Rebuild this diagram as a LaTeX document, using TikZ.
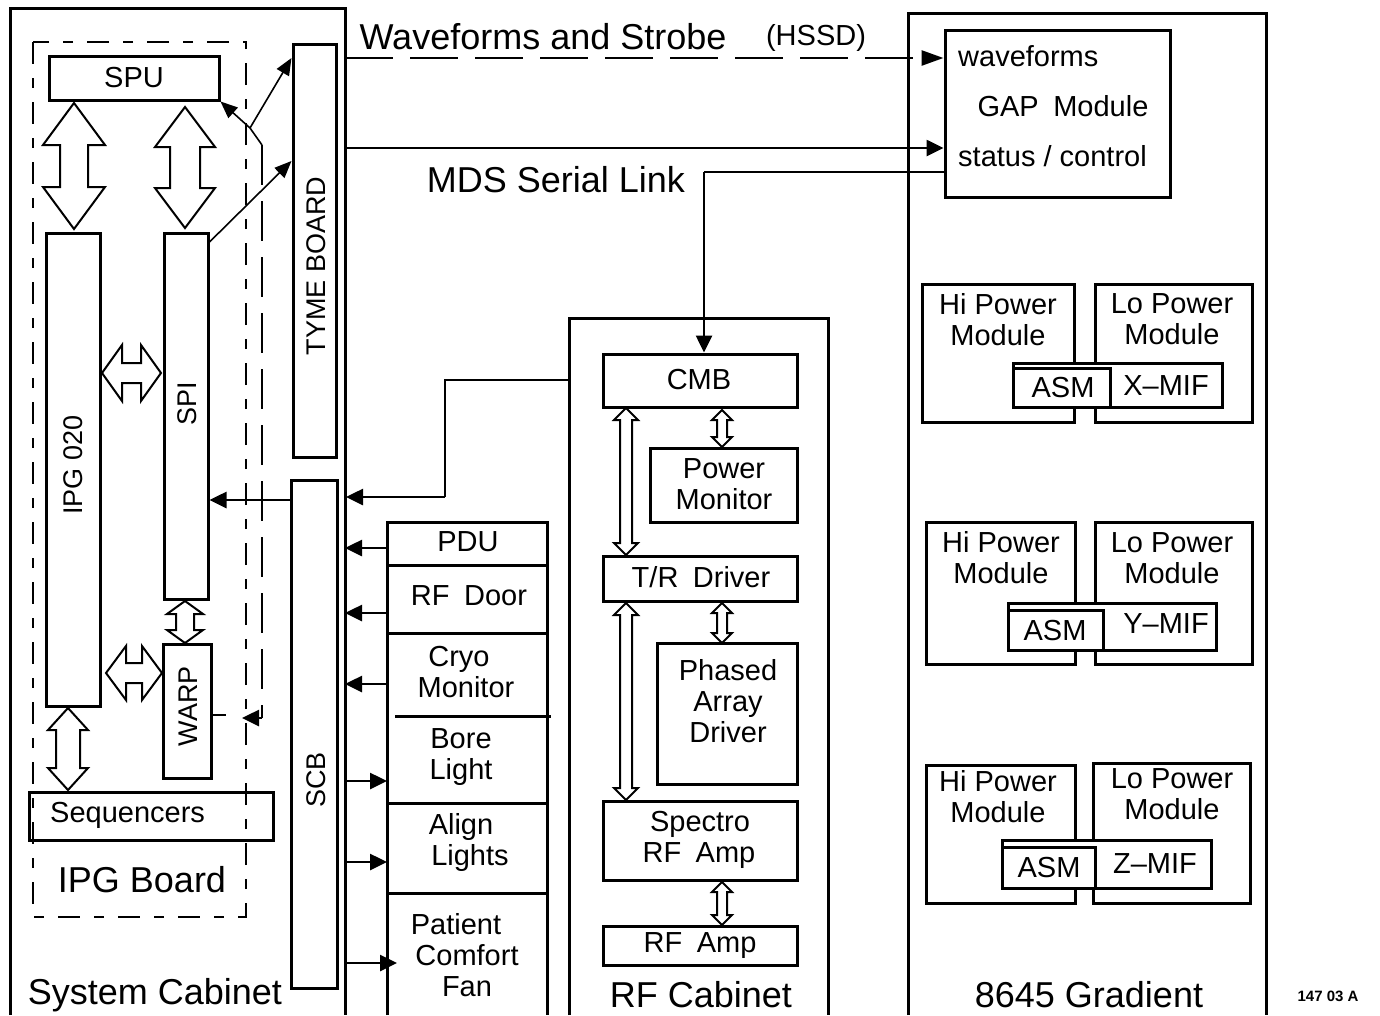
\documentclass[tikz,border=0pt]{standalone}
\usepackage{fontspec}
\setmainfont{Liberation Sans}
\usetikzlibrary{arrows.meta,fit}
\tikzset{
  box/.style={draw, line width=3pt, inner sep=0pt},
  wbox/.style={box, fill=white},
  wall/.style={line width=3pt},
  hollow/.style={line width=2pt, fill=white, line join=miter},
  lbl/.style={font=\fontsize{29}{31}\selectfont, inner sep=0pt, align=center},
  rlbl/.style={font=\fontsize{27}{29}\selectfont, inner sep=0pt, rotate=90},
  big/.style={font=\fontsize{36}{40}\selectfont, inner sep=0pt},
  conn/.style={line width=2.6pt, -{Triangle[length=17pt,width=16pt]}},
  thinconn/.style={line width=1.6pt, -{Triangle[length=17pt,width=14pt]}},
  boarddash/.style={line width=2.6pt, dash pattern=on 22pt off 14pt on 10pt off 14pt},
  longdash/.style={line width=2.6pt, dash pattern=on 40pt off 16pt},
  wavedash/.style={line width=2.6pt, dash pattern=on 48pt off 17pt, -{Triangle[length=22pt,width=15pt]}}
}
% vertical hollow double arrow: x, ytop, ybot, headhalf, shafthalf, headlen
\newcommand\dav[6]{\draw[hollow] (#1,#2) -- ({#1+#4},{#2+#6}) -- ({#1+#5},{#2+#6}) -- ({#1+#5},{#3-#6}) -- ({#1+#4},{#3-#6}) -- (#1,#3) -- ({#1-#4},{#3-#6}) -- ({#1-#5},{#3-#6}) -- ({#1-#5},{#2+#6}) -- ({#1-#4},{#2+#6}) -- cycle;}
% horizontal hollow double arrow: y, xleft, xright, headhalf, shafthalf, headlen
\newcommand\dah[6]{\draw[hollow] (#2,#1) -- ({#2+#6},{#1-#4}) -- ({#2+#6},{#1-#5}) -- ({#3-#6},{#1-#5}) -- ({#3-#6},{#1-#4}) -- (#3,#1) -- ({#3-#6},{#1+#4}) -- ({#3-#6},{#1+#5}) -- ({#2+#6},{#1+#5}) -- ({#2+#6},{#1+#4}) -- cycle;}
\begin{document}
\begin{tikzpicture}[x=1pt,y=-1pt]
\useasboundingbox[fill=white] (0,0) rectangle (1380,1015);

% ---------------- System Cabinet ----------------
\draw[wall] (10,1015) -- (10,8) -- (345,8) -- (345,1015);
\draw[boarddash] (33,42) rectangle (246,917);
\node[box, fit={(49,56) (219,100)}] (spu) {};
\node[box, fit={(46,233) (100,706)}] (ipg) {};
\node[box, fit={(164,233) (208,599)}] (spi) {};
\node[box, fit={(163,644) (211,778)}] (warp) {};
\node[box, fit={(29,792) (273,840)}] (seq) {};
\node[box, fit={(293,44) (336,457)}] (tyme) {};
\node[box, fit={(291,480) (337,988)}] (scb) {};

\node[lbl] (tspu) at (134,78) {SPU};
\node[rlbl] (tipg) at (73,465) {IPG 020};
\node[rlbl] (tspi) at (187,404) {SPI};
\node[rlbl] (twarp) at (188,706) {WARP};
\node[lbl, anchor=west] (tseq) at (50,815) {Sequencers};
\node[big] (tipgb) at (142,880) {IPG Board};
\node[rlbl] (ttyme) at (316,266) {TYME BOARD};
\node[rlbl] (tscb) at (316,780) {SCB};
\node[big] (tsys) at (155,995) {System Cabinet};

% hollow buses
\dav{74}{103}{229}{31}{14}{42}
\dav{185}{107}{228}{30}{15}{40}
\dah{373}{102}{161}{28}{10}{20}
\dav{185}{601}{643}{18}{9}{13}
\dah{673}{106}{162}{27}{10}{20}
\dav{68}{708}{790}{20}{12}{22}

% junction lines near TYME board
\coordinate (j) at (250,128);
\coordinate (jb) at (262,145);
\coordinate (jw) at (262,718);
\coordinate (wend) at (242,718);
\draw[thinconn] (j) -- (tyme.west |- 0,58);
\draw[thinconn] (j) -- (spu.south east);
\draw[line width=1.6pt] (j) -- (jb);
\draw[longdash] (jb) -- (jw);
\draw[conn] (jw) -- (wend);
\draw[line width=2.6pt] (warp.east |- 0,715) -- (226,715);
\draw[thinconn] (spi.north east |- 0,242) -- (tyme.west |- 0,161);
\draw[conn] (scb.west |- 0,500) -- (spi.east |- 0,500);

% ---------------- top links ----------------
\node[box, fit={(945,30) (1170,197)}] (gap) {};
\node[big] (twave) at (543,37) {Waveforms and Strobe};
\node[lbl] (thssd) at (816,38) {(HSSD)};
\node[big] (tmds) at (556,180) {MDS Serial Link};
\node[lbl, anchor=west] (tgw) at (958,56) {waveforms};
\node[lbl] (tgm) at (1063,106) {GAP\enspace Module};
\node[lbl, anchor=west] (tgs) at (958,156) {status / control};
\coordinate (sysr1) at (345,58);
\coordinate (sysr2) at (345,148);
\draw[wavedash] (sysr1) -- (gap.west |- sysr1);
\draw[conn] (sysr2) -- (gap.west |- sysr2);

% ---------------- interface stack ----------------
\draw[wall] (387,1015) -- (387,522) -- (547,522) -- (547,1015);
\draw[wall] (387,565) -- (547,565);
\draw[wall] (387,633) -- (547,633);
\draw[wall] (395,716) -- (551,716);
\draw[wall] (387,803) -- (547,803);
\draw[wall] (387,893) -- (547,893);
\node[lbl] (tpdu) at (468,542) {PDU};
\node[lbl] (tdoor) at (469,596) {RF\enspace Door};
\node[lbl] (tcryo) at (466,672) {\hspace*{-14pt}Cryo\\Monitor};
\node[lbl] (tbore) at (461,757) {Bore\\Light};
\node[lbl] (talign) at (466,842) {\hspace*{-10pt}Align\\\hspace*{8pt}Lights};
\node[lbl] (tfan) at (467,955) {\hspace*{-22pt}Patient\\Comfort\\Fan};
\coordinate (pdu) at (387,548);
\coordinate (door) at (387,613);
\coordinate (cryo) at (387,684);
\coordinate (bore) at (387,781);
\coordinate (align) at (387,862);
\coordinate (fan) at (397,963);
\draw[conn] (pdu) -- (345,548);
\draw[conn] (door) -- (345,613);
\draw[conn] (cryo) -- (345,684);
\draw[conn] (345,781) -- (bore);
\draw[conn] (345,862) -- (align);
\draw[conn] (345,963) -- (fan);

% ---------------- RF Cabinet ----------------
\draw[wall] (569,1015) -- (569,318) -- (828,318) -- (828,1015);
\node[box, fit={(603,354) (797,407)}] (cmb) {};
\node[box, fit={(650,448) (797,522)}] (pm) {};
\node[box, fit={(603,556) (797,601)}] (tr) {};
\node[box, fit={(657,643) (797,784)}] (pad) {};
\node[box, fit={(603,801) (797,880)}] (spec) {};
\node[box, fit={(603,926) (797,965)}] (rfa) {};
\node[lbl] (tcmb) at (699,380) {CMB};
\node[lbl] (tpm) at (724,484) {Power\\Monitor};
\node[lbl] (ttr) at (701,577) {T/R\enspace Driver};
\node[lbl] (tpad) at (728,701) {Phased\\Array\\Driver};
\node[lbl] (tspec) at (699,840) {\hspace*{2pt}Spectro\\RF\enspace Amp};
\node[lbl] (trfa) at (700,946) {RF\enspace Amp};
\node[big] (trfc) at (701,995) {RF Cabinet};
\dav{626}{408}{555}{12}{6}{12}
\dav{722}{410}{447}{10}{5}{10}
\dav{626}{603}{800}{12}{6}{12}
\dav{722}{603}{643}{10}{5}{10}
\dav{722}{882}{925}{10}{5}{10}
% links
\coordinate (rfl) at (569,380);
\coordinate (k1) at (445,380);
\coordinate (k2) at (445,497);
\draw[line width=2.6pt] (rfl) -- (k1) -- (k2);
\draw[conn] (k2) -- (346,497);
\coordinate (m1) at (704,172);
\draw[line width=2.6pt] (gap.west |- m1) -- (m1);
\draw[conn] (m1) -- (cmb.north -| m1);

% ---------------- 8645 Gradient ----------------
\draw[wall] (908,1015) -- (908,13) -- (1266,13) -- (1266,1015);
% row 1
\node[box, fit={(922,284) (1074,422)}] (hi1) {};
\node[box, fit={(1095,284) (1252,422)}] (lo1) {};
\node[wbox, fit={(1013,363) (1222,407)}] (mif1) {};
\node[wbox, fit={(1013,368) (1110,407)}] (asm1) {};
\node[lbl] at (998,320) {Hi Power\\Module};
\node[lbl] at (1172,319) {Lo Power\\Module};
\node[lbl] at (1063,388) {ASM};
\node[lbl] at (1166,386) {X--MIF};
% row 2
\node[box, fit={(926,522) (1075,664)}] (hi2) {};
\node[box, fit={(1095,522) (1252,664)}] (lo2) {};
\node[wbox, fit={(1008,603) (1216,650)}] (mif2) {};
\node[wbox, fit={(1008,610) (1103,650)}] (asm2) {};
\node[lbl] at (1001,558) {Hi Power\\Module};
\node[lbl] at (1172,558) {Lo Power\\Module};
\node[lbl] at (1055,631) {ASM};
\node[lbl] at (1166,624) {Y--MIF};
% row 3
\node[box, fit={(926,765) (1075,903)}] (hi3) {};
\node[box, fit={(1093,763) (1250,903)}] (lo3) {};
\node[wbox, fit={(1002,840) (1211,888)}] (mif3) {};
\node[wbox, fit={(1002,847) (1095,888)}] (asm3) {};
\node[lbl] at (998,797) {Hi Power\\Module};
\node[lbl] at (1172,794) {Lo Power\\Module};
\node[lbl] at (1049,868) {ASM};
\node[lbl] at (1155,864) {Z--MIF};
\node[big] (tgrad) at (1089,995) {8645 Gradient};
\node[font=\fontsize{15}{16}\selectfont\bfseries, inner sep=0pt] (tid) at (1328,996) {147 03 A};
\end{tikzpicture}
\end{document}
